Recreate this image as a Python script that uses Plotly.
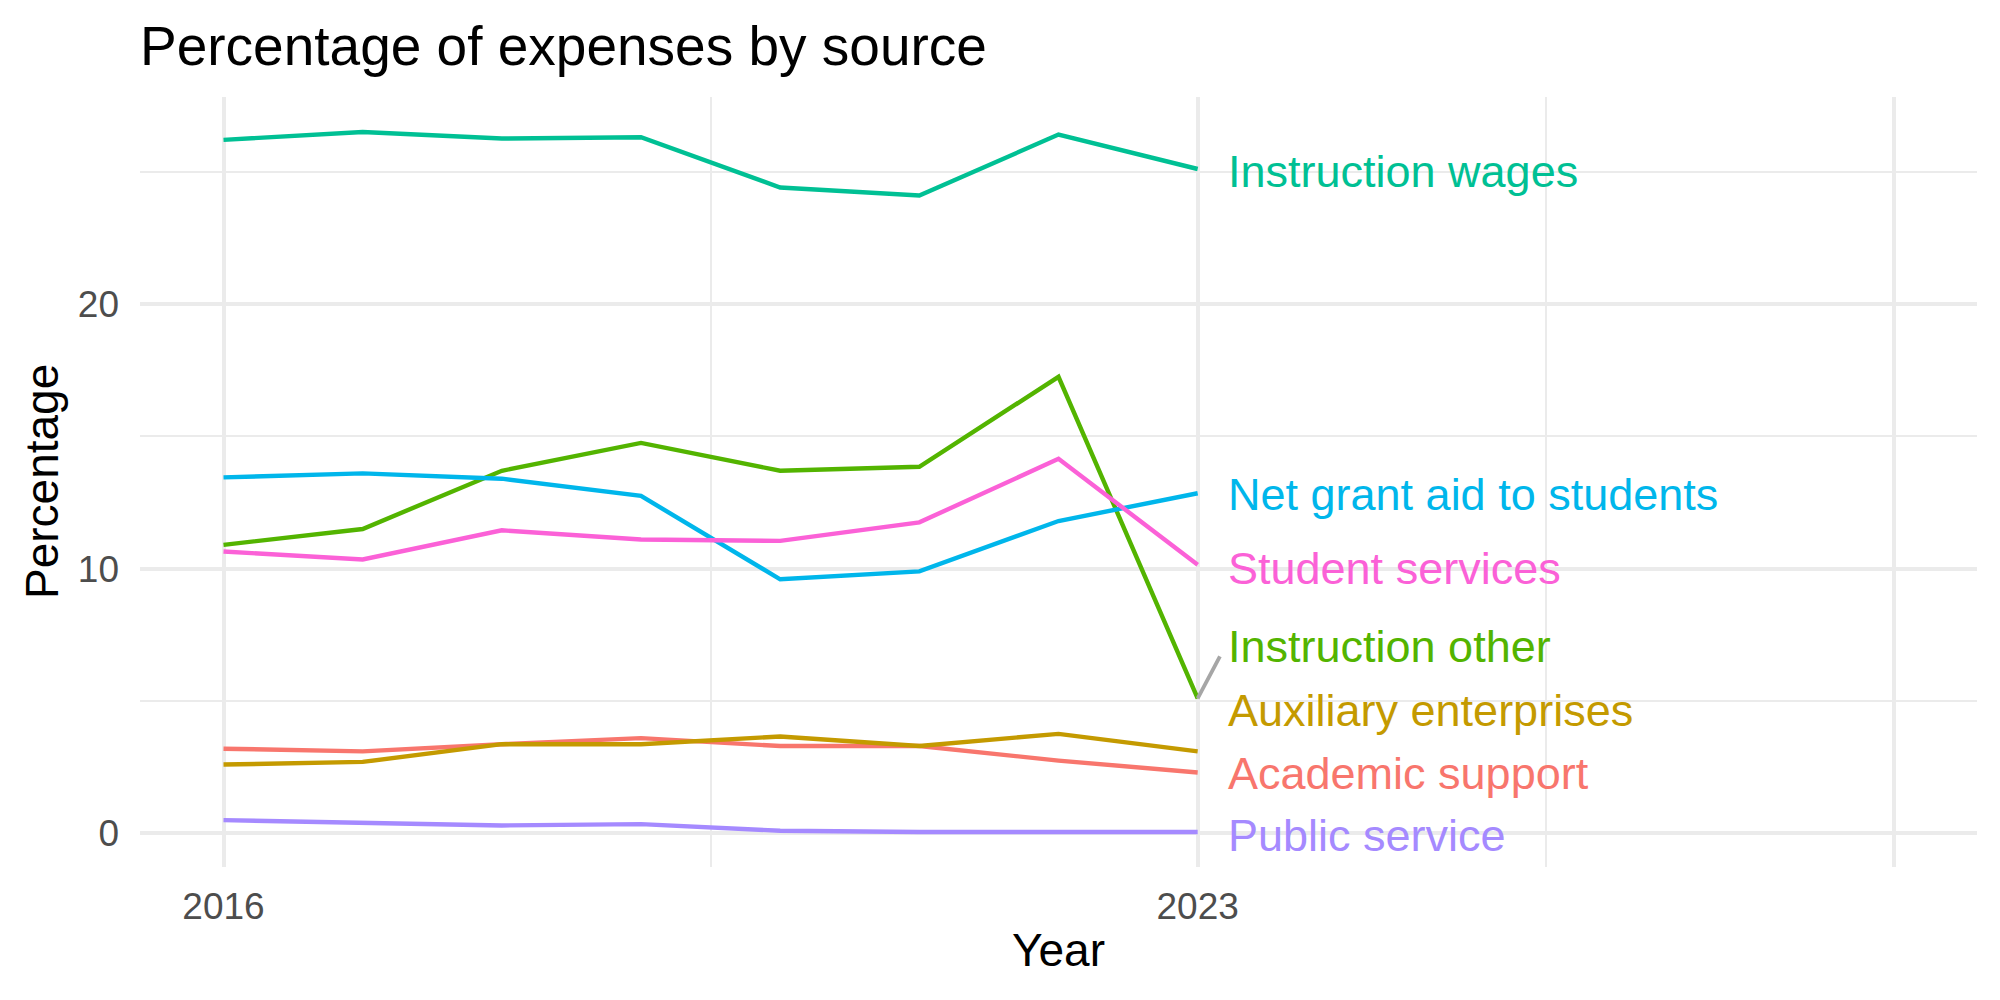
import plotly.graph_objects as go

years = [2016, 2017, 2018, 2019, 2020, 2021, 2022, 2023]

series_names = [
    "Academic support",
    "Auxiliary enterprises",
    "Instruction other",
    "Instruction wages",
    "Net grant aid to students",
    "Public service",
    "Student services",
]

academic_support = [3.2, 3.1, 3.37, 3.6, 3.3, 3.3, 2.75, 2.3]
auxiliary_enterprises = [2.6, 2.7, 3.37, 3.37, 3.66, 3.3, 3.76, 3.1]
instruction_other = [10.9, 11.5, 13.7, 14.75, 13.7, 13.85, 17.25, 5.1]
instruction_wages = [26.2, 26.5, 26.25, 26.3, 24.4, 24.1, 26.4, 25.1]
net_grant_aid = [13.45, 13.6, 13.4, 12.75, 9.6, 9.9, 11.8, 12.85]
public_service = [0.5, 0.4, 0.3, 0.35, 0.1, 0.05, 0.05, 0.05]
student_services = [10.65, 10.35, 11.45, 11.1, 11.05, 11.75, 14.15, 10.15]

series_values = [
    academic_support,
    auxiliary_enterprises,
    instruction_other,
    instruction_wages,
    net_grant_aid,
    public_service,
    student_services,
]

colors = ["#F8766D", "#C49A00", "#53B400", "#00C094", "#00B6EB", "#A58AFF", "#FB61D7"]

# repelled label positions (y value of label centre)
label_y = [2.27, 4.65, 7.07, 25.0, 12.82, -0.08, 10.02]
label_x = 2023.2
# connector for the label that was moved away from its point
segment_x = [2023, 2023.16]
segment_y = [5.1, 6.69]

x_tickvals = [2016, 2023, 2028]
x_ticktext = ["2016", "2023", ""]
x_minor = [2019.5, 2025.5]

FONT = "Liberation Sans, Arial, Helvetica, sans-serif"

fig = go.Figure()

for name, vals, col in zip(series_names, series_values, colors):
    fig.add_trace(go.Scatter(
        x=years, y=vals, mode="lines", name=name,
        line=dict(color=col, width=4.4), showlegend=False,
        hoverinfo="x+y+name",
    ))

fig.add_trace(go.Scatter(
    x=segment_x, y=segment_y, mode="lines",
    line=dict(color="#A6A6A6", width=3.8), showlegend=False, hoverinfo="skip",
))

for name, ly, col in zip(series_names, label_y, colors):
    fig.add_annotation(
        x=label_x, y=ly, xref="x", yref="y", text=name, showarrow=False,
        xanchor="left", yanchor="middle",
        font=dict(family=FONT, size=45, color=col),
    )

fig.update_layout(
    width=2000, height=1000,
    margin=dict(l=140, r=23, t=97, b=133),
    plot_bgcolor="white", paper_bgcolor="white",
    title=dict(
        text="Percentage of expenses by source",
        x=140 / 2000, xanchor="left", xref="container",
        y=1 - 46 / 1000, yanchor="middle", yref="container",
        font=dict(family=FONT, size=55, color="black"),
    ),
    font=dict(family=FONT),
)

fig.update_xaxes(
    range=[2015.4, 2028.6],
    tickvals=x_tickvals, ticktext=x_ticktext,
    showgrid=True, gridcolor="#EBEBEB", gridwidth=4.3,
    minor=dict(tickvals=x_minor, showgrid=True, gridcolor="#EBEBEB", gridwidth=2),
    zeroline=False, showline=False, ticks="",
    tickfont=dict(family=FONT, size=37, color="#4D4D4D"),
    ticklabelstandoff=14,
)
fig.update_yaxes(
    range=[-1.27, 27.82],
    tickvals=[0, 10, 20],
    showgrid=True, gridcolor="#EBEBEB", gridwidth=4.3,
    minor=dict(tickvals=[5, 15, 25], showgrid=True, gridcolor="#EBEBEB", gridwidth=2),
    zeroline=False, showline=False, ticks="",
    tickfont=dict(family=FONT, size=37, color="#4D4D4D"),
    ticklabelstandoff=20,
)

plot_w = 2000 - 140 - 23
plot_h = 1000 - 97 - 133

fig.add_annotation(
    x=0.5, y=(1000 - 133 - 950) / plot_h, xref="paper", yref="paper", text="Year",
    showarrow=False, xanchor="center", yanchor="middle",
    font=dict(family=FONT, size=46, color="black"),
)
fig.add_annotation(
    x=(42 - 140) / plot_w, y=0.5, xref="paper", yref="paper", text="Percentage",
    showarrow=False, textangle=-90, xanchor="center", yanchor="middle",
    font=dict(family=FONT, size=46, color="black"),
)

fig.write_html("out.html")
